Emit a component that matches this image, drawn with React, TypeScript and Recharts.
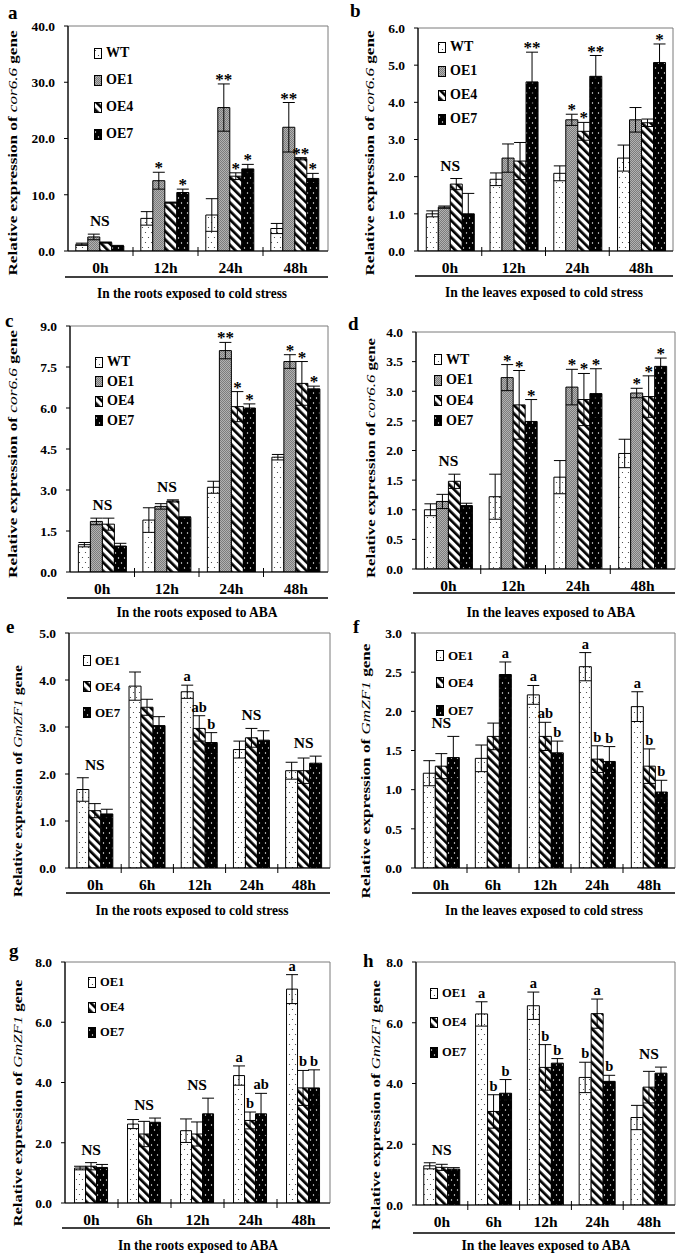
import React from "react";
import { BarChart, Bar, XAxis, YAxis, ErrorBar, LabelList, Legend, ReferenceArea, Label } from "recharts";

// ---------- categories & lines ----------
const corCats = ["0h", "12h", "24h", "48h"];
const zfCats = ["0h", "6h", "12h", "24h", "48h"];

// ---------- panel a : cor6.6, roots, cold ----------
const aWT = [1.2, 5.8, 6.4, 4.0];
const aWTErr = [0.2, 1.2, 2.9, 0.9];
const aWTSig = ["", "", "", ""];
const aOE1 = [2.5, 12.5, 25.5, 22.0];
const aOE1Err = [0.5, 1.5, 4.2, 4.4];
const aOE1Sig = ["", "*", "**", "**"];
const aOE4 = [1.5, 8.6, 13.3, 16.4];
const aOE4Err = [0.1, 0.1, 0.6, 0.2];
const aOE4Sig = ["", "", "*", "**"];
const aOE7 = [0.9, 10.4, 14.6, 12.9];
const aOE7Err = [0.1, 0.6, 0.8, 0.9];
const aOE7Sig = ["", "*", "*", "*"];
const aGroup = ["NS", "", "", ""];
const aTicks = [0, 10, 20, 30, 40];

// ---------- panel b : cor6.6, leaves, cold ----------
const bWT = [1.0, 1.93, 2.09, 2.5];
const bWTErr = [0.08, 0.17, 0.2, 0.35];
const bWTSig = ["", "", "", ""];
const bOE1 = [1.18, 2.5, 3.53, 3.53];
const bOE1Err = [0.03, 0.38, 0.15, 0.33];
const bOE1Sig = ["", "", "*", ""];
const bOE4 = [1.8, 2.42, 3.22, 3.45];
const bOE4Err = [0.15, 0.5, 0.24, 0.1];
const bOE4Sig = ["", "", "*", ""];
const bOE7 = [1.0, 4.55, 4.7, 5.07];
const bOE7Err = [0.55, 0.8, 0.56, 0.5];
const bOE7Sig = ["", "**", "**", "*"];
const bGroup = ["NS", "", "", ""];
const bTicks = [0, 1, 2, 3, 4, 5, 6];

// ---------- panel c : cor6.6, roots, ABA ----------
const cWT = [1.0, 1.9, 3.1, 4.2];
const cWTErr = [0.08, 0.45, 0.22, 0.1];
const cWTSig = ["", "", "", ""];
const cOE1 = [1.85, 2.4, 8.1, 7.7];
const cOE1Err = [0.12, 0.1, 0.3, 0.25];
const cOE1Sig = ["", "", "**", "*"];
const cOE4 = [1.75, 2.6, 6.05, 6.9];
const cOE4Err = [0.22, 0.04, 0.55, 0.8];
const cOE4Sig = ["", "", "*", "*"];
const cOE7 = [0.95, 2.0, 6.0, 6.7];
const cOE7Err = [0.1, 0.02, 0.15, 0.1];
const cOE7Sig = ["", "", "*", "*"];
const cGroup = ["NS", "NS", "", ""];
const cTicks = [0, 1.5, 3, 4.5, 6, 7.5, 9];

// ---------- panel d : cor6.6, leaves, ABA ----------
const dWT = [1.0, 1.22, 1.55, 1.95];
const dWTErr = [0.1, 0.38, 0.28, 0.24];
const dWTSig = ["", "", "", ""];
const dOE1 = [1.14, 3.23, 3.07, 2.97];
const dOE1Err = [0.12, 0.22, 0.3, 0.08];
const dOE1Sig = ["", "*", "*", "*"];
const dOE4 = [1.48, 2.77, 2.86, 2.91];
const dOE4Err = [0.12, 0.58, 0.44, 0.35];
const dOE4Sig = ["", "*", "*", "*"];
const dOE7 = [1.07, 2.49, 2.96, 3.42];
const dOE7Err = [0.04, 0.37, 0.42, 0.14];
const dOE7Sig = ["", "*", "*", "*"];
const dGroup = ["NS", "", "", ""];
const dTicks = [0, 0.5, 1, 1.5, 2, 2.5, 3, 3.5, 4];

// ---------- panel e : GmZF1, roots, cold ----------
const eOE1 = [1.67, 3.87, 3.75, 2.52, 2.07];
const eOE1Err = [0.25, 0.3, 0.14, 0.18, 0.18];
const eOE1Sig = ["", "", "a", "", ""];
const eOE4 = [1.22, 3.42, 2.97, 2.77, 2.07];
const eOE4Err = [0.15, 0.17, 0.27, 0.2, 0.27];
const eOE4Sig = ["", "", "ab", "", ""];
const eOE7 = [1.15, 3.03, 2.67, 2.72, 2.23];
const eOE7Err = [0.1, 0.19, 0.21, 0.2, 0.15];
const eOE7Sig = ["", "", "b", "", ""];
const eGroup = ["NS", "", "", "NS", "NS"];
const eTicks = [0, 1, 2, 3, 4, 5];

// ---------- panel f : GmZF1, leaves, cold ----------
const fOE1 = [1.21, 1.4, 2.21, 2.57, 2.06];
const fOE1Err = [0.16, 0.17, 0.12, 0.18, 0.19];
const fOE1Sig = ["", "", "a", "a", "a"];
const fOE4 = [1.3, 1.68, 1.68, 1.39, 1.3];
const fOE4Err = [0.16, 0.17, 0.18, 0.17, 0.22];
const fOE4Sig = ["", "", "ab", "b", "b"];
const fOE7 = [1.41, 2.47, 1.47, 1.36, 0.97];
const fOE7Err = [0.27, 0.16, 0.15, 0.19, 0.15];
const fOE7Sig = ["", "a", "b", "b", "b"];
const fGroup = ["NS", "", "", "", ""];
const fTicks = [0, 0.5, 1, 1.5, 2, 2.5, 3];

// ---------- panel g : GmZF1, roots, ABA ----------
const gOE1 = [1.16, 2.62, 2.4, 4.23, 7.1];
const gOE1Err = [0.06, 0.15, 0.39, 0.32, 0.48];
const gOE1Sig = ["", "", "", "a", "a"];
const gOE4 = [1.22, 2.29, 2.29, 2.74, 3.82];
const gOE4Err = [0.12, 0.42, 0.4, 0.28, 0.58];
const gOE4Sig = ["", "", "", "b", "b"];
const gOE7 = [1.18, 2.68, 2.96, 2.96, 3.82];
const gOE7Err = [0.1, 0.14, 0.52, 0.68, 0.6];
const gOE7Sig = ["", "", "", "ab", "b"];
const gGroup = ["NS", "NS", "NS", "", ""];
const gTicks = [0, 2, 4, 6, 8];

// ---------- panel h : GmZF1, leaves, ABA ----------
const hOE1 = [1.29, 6.29, 6.56, 4.2, 2.88];
const hOE1Err = [0.1, 0.4, 0.45, 0.5, 0.4];
const hOE1Sig = ["", "a", "a", "b", ""];
const hOE4 = [1.24, 3.08, 4.53, 6.3, 3.88];
const hOE4Err = [0.1, 0.55, 0.75, 0.48, 0.52];
const hOE4Sig = ["", "b", "b", "a", ""];
const hOE7 = [1.18, 3.68, 4.67, 4.07, 4.34];
const hOE7Err = [0.05, 0.45, 0.15, 0.2, 0.2];
const hOE7Sig = ["", "b", "b", "b", ""];
const hGroup = ["NS", "", "", "", "NS"];
const hTicks = [0, 2, 4, 6, 8];

// ---------- styling ----------
const FONT = "'Liberation Serif', 'Times New Roman', serif";
const DOTS = "url(#pDots)";
const GRAY = "url(#pGray)";
const STRIPES = "url(#pStripes)";
const BLACK = "url(#pBlack)";

type Series = { name: string; values: number[]; errs: number[]; sigs: string[]; fill: string };
type Box = { x: number; y: number; w: number; h: number };
type Plot = { l: number; r: number; t: number; b: number };
type PanelCfg = {
  letter: string;
  letterPos: [number, number];
  box: Box;
  plot: Plot;
  cats: string[];
  series: Series[];
  group: string[];
  yMax: number;
  yTicks: number[];
  gap: string;
  gene: string;
  yLabel: { x: number; cy: number; len: number };
  title: string;
  titleX: number;
  titleW: number;
  sepY: number;
  titleY: number;
  legend: { x: number; y: number; sp: number; fs: number };
};

const s4 = (v: number[][], e: number[][], s: string[][]): Series[] => [
  { name: "WT", values: v[0], errs: e[0], sigs: s[0], fill: DOTS },
  { name: "OE1", values: v[1], errs: e[1], sigs: s[1], fill: GRAY },
  { name: "OE4", values: v[2], errs: e[2], sigs: s[2], fill: STRIPES },
  { name: "OE7", values: v[3], errs: e[3], sigs: s[3], fill: BLACK },
];
const s3 = (v: number[][], e: number[][], s: string[][]): Series[] => [
  { name: "OE1", values: v[0], errs: e[0], sigs: s[0], fill: DOTS },
  { name: "OE4", values: v[1], errs: e[1], sigs: s[1], fill: STRIPES },
  { name: "OE7", values: v[2], errs: e[2], sigs: s[2], fill: BLACK },
];

const panels: PanelCfg[] = [
  {
    letter: "a", letterPos: [8, 19], box: { x: 0, y: 0, w: 339, h: 300 }, plot: { l: 68, r: 328, t: 26, b: 251 },
    cats: corCats,
    series: s4([aWT, aOE1, aOE4, aOE7], [aWTErr, aOE1Err, aOE4Err, aOE7Err], [aWTSig, aOE1Sig, aOE4Sig, aOE7Sig]),
    group: aGroup, yMax: 40, yTicks: aTicks, gap: "12%", gene: "cor6.6",
    yLabel: { x: 13, cy: 153, len: 245 },
    title: "In the roots exposed to cold stress", titleX: 192, titleW: 190, sepY: 277, titleY: 293,
    legend: { x: 94, y: 53, sp: 27, fs: 14 },
  },
  {
    letter: "b", letterPos: [350, 17], box: { x: 339, y: 0, w: 339, h: 300 }, plot: { l: 418, r: 673, t: 28, b: 251 },
    cats: corCats,
    series: s4([bWT, bOE1, bOE4, bOE7], [bWTErr, bOE1Err, bOE4Err, bOE7Err], [bWTSig, bOE1Sig, bOE4Sig, bOE7Sig]),
    group: bGroup, yMax: 6, yTicks: bTicks, gap: "13%", gene: "cor6.6",
    yLabel: { x: 370, cy: 153, len: 245 },
    title: "In the leaves exposed to cold stress", titleX: 544, titleW: 198, sepY: 276, titleY: 292,
    legend: { x: 438, y: 47, sp: 24, fs: 14 },
  },
  {
    letter: "c", letterPos: [5, 327], box: { x: 0, y: 300, w: 339, h: 322 }, plot: { l: 70, r: 328, t: 326, b: 572 },
    cats: corCats,
    series: s4([cWT, cOE1, cOE4, cOE7], [cWTErr, cOE1Err, cOE4Err, cOE7Err], [cWTSig, cOE1Sig, cOE4Sig, cOE7Sig]),
    group: cGroup, yMax: 9, yTicks: cTicks, gap: "13%", gene: "cor6.6",
    yLabel: { x: 13, cy: 454, len: 248 },
    title: "In the roots exposed to ABA", titleX: 197, titleW: 161, sepY: 598, titleY: 612,
    legend: { x: 95, y: 362, sp: 19.5, fs: 14 },
  },
  {
    letter: "d", letterPos: [348, 330], box: { x: 339, y: 300, w: 339, h: 322 }, plot: { l: 416, r: 675, t: 332, b: 569 },
    cats: corCats,
    series: s4([dWT, dOE1, dOE4, dOE7], [dWTErr, dOE1Err, dOE4Err, dOE7Err], [dWTSig, dOE1Sig, dOE4Sig, dOE7Sig]),
    group: dGroup, yMax: 4, yTicks: dTicks, gap: "13%", gene: "cor6.6",
    yLabel: { x: 371, cy: 458, len: 240 },
    title: "In the leaves exposed to ABA", titleX: 551, titleW: 169, sepY: 593, titleY: 612,
    legend: { x: 434, y: 360, sp: 20.3, fs: 14 },
  },
  {
    letter: "e", letterPos: [6, 633], box: { x: 0, y: 610, w: 339, h: 312 }, plot: { l: 69, r: 330, t: 633, b: 868 },
    cats: zfCats,
    series: s3([eOE1, eOE4, eOE7], [eOE1Err, eOE4Err, eOE7Err], [eOE1Sig, eOE4Sig, eOE7Sig]),
    group: eGroup, yMax: 5, yTicks: eTicks, gap: "15%", gene: "GmZF1",
    yLabel: { x: 18, cy: 781, len: 232 },
    title: "In the roots exposed to cold stress", titleX: 192, titleW: 193, sepY: 893, titleY: 910,
    legend: { x: 83, y: 660, sp: 26, fs: 13 },
  },
  {
    letter: "f", letterPos: [353, 633], box: { x: 339, y: 610, w: 339, h: 312 }, plot: { l: 415, r: 675, t: 633, b: 868 },
    cats: zfCats,
    series: s3([fOE1, fOE4, fOE7], [fOE1Err, fOE4Err, fOE7Err], [fOE1Sig, fOE4Sig, fOE7Sig]),
    group: fGroup, yMax: 3, yTicks: fTicks, gap: "16%", gene: "GmZF1",
    yLabel: { x: 366, cy: 771, len: 255 },
    title: "In the leaves exposed to cold stress", titleX: 544, titleW: 198, sepY: 893, titleY: 910,
    legend: { x: 436, y: 655, sp: 27.5, fs: 13 },
  },
  {
    letter: "g", letterPos: [9, 957], box: { x: 0, y: 922, w: 339, h: 335 }, plot: { l: 65, r: 330, t: 962, b: 1203 },
    cats: zfCats,
    series: s3([gOE1, gOE4, gOE7], [gOE1Err, gOE4Err, gOE7Err], [gOE1Sig, gOE4Sig, gOE7Sig]),
    group: gGroup, yMax: 8, yTicks: gTicks, gap: "18%", gene: "GmZF1",
    yLabel: { x: 18, cy: 1103, len: 247 },
    title: "In the roots exposed to ABA", titleX: 198, titleW: 160, sepY: 1228, titleY: 1245,
    legend: { x: 88, y: 982, sp: 25, fs: 12.5 },
  },
  {
    letter: "h", letterPos: [363, 967], box: { x: 339, y: 922, w: 339, h: 335 }, plot: { l: 416, r: 675, t: 962, b: 1205 },
    cats: zfCats,
    series: s3([hOE1, hOE4, hOE7], [hOE1Err, hOE4Err, hOE7Err], [hOE1Sig, hOE4Sig, hOE7Sig]),
    group: hGroup, yMax: 8, yTicks: hTicks, gap: "15%", gene: "GmZF1",
    yLabel: { x: 376, cy: 1105, len: 250 },
    title: "In the leaves exposed to ABA", titleX: 546, titleW: 169, sepY: 1233, titleY: 1245,
    legend: { x: 430, y: 993, sp: 29.5, fs: 12.5 },
  },
];

function num(v: any): number {
  return typeof v === "number" ? v : parseFloat(v);
}

function Panel({ p }: { p: PanelCfg }) {
  const { box, plot } = p;
  const n = p.series.length;
  const band = (plot.r - plot.l) / p.cats.length;
  const data = p.cats.map((c, i) => {
    const row: any = { cat: c };
    p.series.forEach((s, k) => {
      row["v" + k] = s.values[i];
      row["e" + k] = s.errs[i];
    });
    return row;
  });

  const xTick = (props: any) => {
    const { x, y, payload, index } = props;
    return (
      <g>
        <text x={x} y={y + 16} textAnchor="middle" dominantBaseline="central" fontFamily={FONT} fontWeight="bold" fontSize={15.5} fill="#000">
          {payload.value}
        </text>
        {index > 0 && <line x1={x - band / 2} x2={x - band / 2} y1={y - 4} y2={y + 5} stroke="#000" strokeWidth={1} />}
      </g>
    );
  };

  const xDecor = () => (
    <g>
      <line x1={plot.l - 3 - box.x} x2={plot.r - box.x} y1={p.sepY - box.y} y2={p.sepY - box.y} stroke="#000" strokeWidth={1.3} />
      <text
        x={p.titleX - box.x}
        y={p.titleY - box.y}
        textAnchor="middle"
        dominantBaseline="central"
        fontFamily={FONT}
        fontWeight="bold"
        fontSize={14}
        textLength={p.titleW}
        lengthAdjust="spacingAndGlyphs"
        fill="#000"
      >
        {p.title}
      </text>
    </g>
  );

  const yDecor = () => (
    <g>
      <text
        transform={`translate(${p.yLabel.x - box.x}, ${p.yLabel.cy - box.y}) rotate(-90)`}
        textAnchor="middle"
        dominantBaseline="central"
        fontFamily={FONT}
        fontWeight="bold"
        fontSize={12.5}
        textLength={p.yLabel.len}
        lengthAdjust="spacingAndGlyphs"
        fill="#000"
      >
        {"Relative expression of "}
        <tspan fontStyle="italic" fontWeight="normal">{p.gene}</tspan>
        {" gene"}
      </text>
      <text x={p.letterPos[0] - box.x} y={p.letterPos[1] - box.y} fontFamily={FONT} fontWeight="bold" fontSize={19} fill="#000">
        {p.letter}
      </text>
    </g>
  );

  const sigLabel = (s: Series) => (props: any) => {
    const { index } = props;
    const txt = s.sigs[index];
    if (!txt) return null;
    const x = num(props.x), y = num(props.y), w = num(props.width), h = num(props.height);
    const v = s.values[index];
    const ppu = h / v;
    const top = y - s.errs[index] * ppu;
    const star = txt.indexOf("*") >= 0;
    return (
      <text
        x={x + w / 2}
        y={star ? top + 1 : top - 4}
        textAnchor="middle"
        fontFamily={FONT}
        fontWeight="bold"
        fontSize={star ? 17 : 14.5}
        fill="#000"
      >
        {txt}
      </text>
    );
  };

  const groupLabel = (s: Series) => (props: any) => {
    const { index } = props;
    const txt = p.group[index];
    if (!txt) return null;
    const x = num(props.x), y = num(props.y), w = num(props.width), h = num(props.height);
    const ppu = h / s.values[index];
    const base = y + h;
    const maxTop = Math.max(...p.series.map((ss) => ss.values[index] + ss.errs[index]));
    const cx = n === 4 ? x + w : x + w / 2;
    return (
      <text x={cx} y={base - maxTop * ppu - 8} textAnchor="middle" fontFamily={FONT} fontWeight="bold" fontSize={15.5} fill="#000">
        {txt}
      </text>
    );
  };

  const legendContent = () => (
    <div>
      {p.series.map((s) => (
        <div key={s.name} style={{ height: p.legend.sp, display: "flex", alignItems: "center" }}>
          <svg width={8} height={11} style={{ display: "block" }}>
            <rect x={0.5} y={0.5} width={7} height={10} fill={s.fill} stroke="#000" strokeWidth={1} />
          </svg>
          <span style={{ marginLeft: 4, fontFamily: FONT, fontWeight: "bold", fontSize: p.legend.fs, color: "#000", lineHeight: 1 }}>{s.name}</span>
        </div>
      ))}
    </div>
  );

  return (
    <div style={{ position: "absolute", left: box.x, top: box.y }}>
      <BarChart
        width={box.w}
        height={box.h}
        data={data}
        margin={{ top: plot.t - box.y, right: box.x + box.w - plot.r, bottom: 0, left: 0 }}
        barGap={0}
        barCategoryGap={p.gap}
      >
        <ReferenceArea y1={0} y2={p.yMax} fill="none" stroke="#7a7a7a" strokeWidth={1} />
        <XAxis
          dataKey="cat"
          height={box.y + box.h - plot.b}
          tickLine={false}
          tickSize={0}
          tickMargin={0}
          interval={0}
          axisLine={{ stroke: "#000", strokeWidth: 1.2 }}
          tick={xTick}
          label={<Label content={xDecor} />}
        />
        <YAxis
          width={plot.l - box.x}
          domain={[0, p.yMax]}
          ticks={p.yTicks}
          interval={0}
          allowDataOverflow
          tickSize={4}
          tickMargin={9}
          tickFormatter={(v: number) => v.toFixed(1)}
          tick={{ fontFamily: FONT, fontWeight: "bold", fontSize: 13.5, fill: "#000" }}
          axisLine={{ stroke: "#000", strokeWidth: 1.2 }}
          tickLine={{ stroke: "#000" }}
          label={<Label content={yDecor} />}
        />
        {p.series.map((s, k) => (
          <Bar key={s.name} dataKey={"v" + k} name={s.name} fill={s.fill} stroke="#000" strokeWidth={1} isAnimationActive={false}>
            <ErrorBar dataKey={"e" + k} width={6} stroke="#000" strokeWidth={1} />
            <LabelList content={sigLabel(s)} />
            {k === 1 && <LabelList content={groupLabel(s)} />}
          </Bar>
        ))}
        <Legend
          layout="vertical"
          align="center"
          verticalAlign="middle"
          content={legendContent}
          wrapperStyle={{ left: p.legend.x - box.x, top: p.legend.y - p.legend.sp / 2 - box.y, width: 70, height: "auto" }}
        />
      </BarChart>
    </div>
  );
}

export default function App() {
  return (
    <div style={{ position: "relative", width: 678, height: 1257, background: "#fff", overflow: "hidden" }}>
      <style>{"body{margin:0;background:#fff;}"}</style>
      <svg width={0} height={0} style={{ position: "absolute" }}>
        <defs>
          <pattern id="pDots" patternUnits="userSpaceOnUse" width={6} height={10}>
            <rect width={6} height={10} fill="#fff" />
            <circle cx={1.5} cy={2.5} r={0.6} fill="#333" />
            <circle cx={4.5} cy={7.5} r={0.6} fill="#333" />
          </pattern>
          <pattern id="pGray" patternUnits="userSpaceOnUse" width={2} height={2}>
            <rect width={2} height={2} fill="#b2b2b2" />
            <rect x={0} y={0} width={1} height={1} fill="#7c7c7c" />
            <rect x={1} y={1} width={1} height={1} fill="#7c7c7c" />
          </pattern>
          <pattern id="pStripes" patternUnits="userSpaceOnUse" width={6} height={6} patternTransform="rotate(-45)">
            <rect width={6} height={6} fill="#fff" />
            <rect x={0} y={0} width={2.7} height={6} fill="#000" />
          </pattern>
          <pattern id="pBlack" patternUnits="userSpaceOnUse" width={6} height={10}>
            <rect width={6} height={10} fill="#000" />
            <circle cx={1.5} cy={3} r={0.7} fill="#fff" />
            <circle cx={4.5} cy={8} r={0.7} fill="#fff" />
          </pattern>
        </defs>
      </svg>
      {panels.map((p) => (
        <Panel key={p.letter} p={p} />
      ))}
    </div>
  );
}
